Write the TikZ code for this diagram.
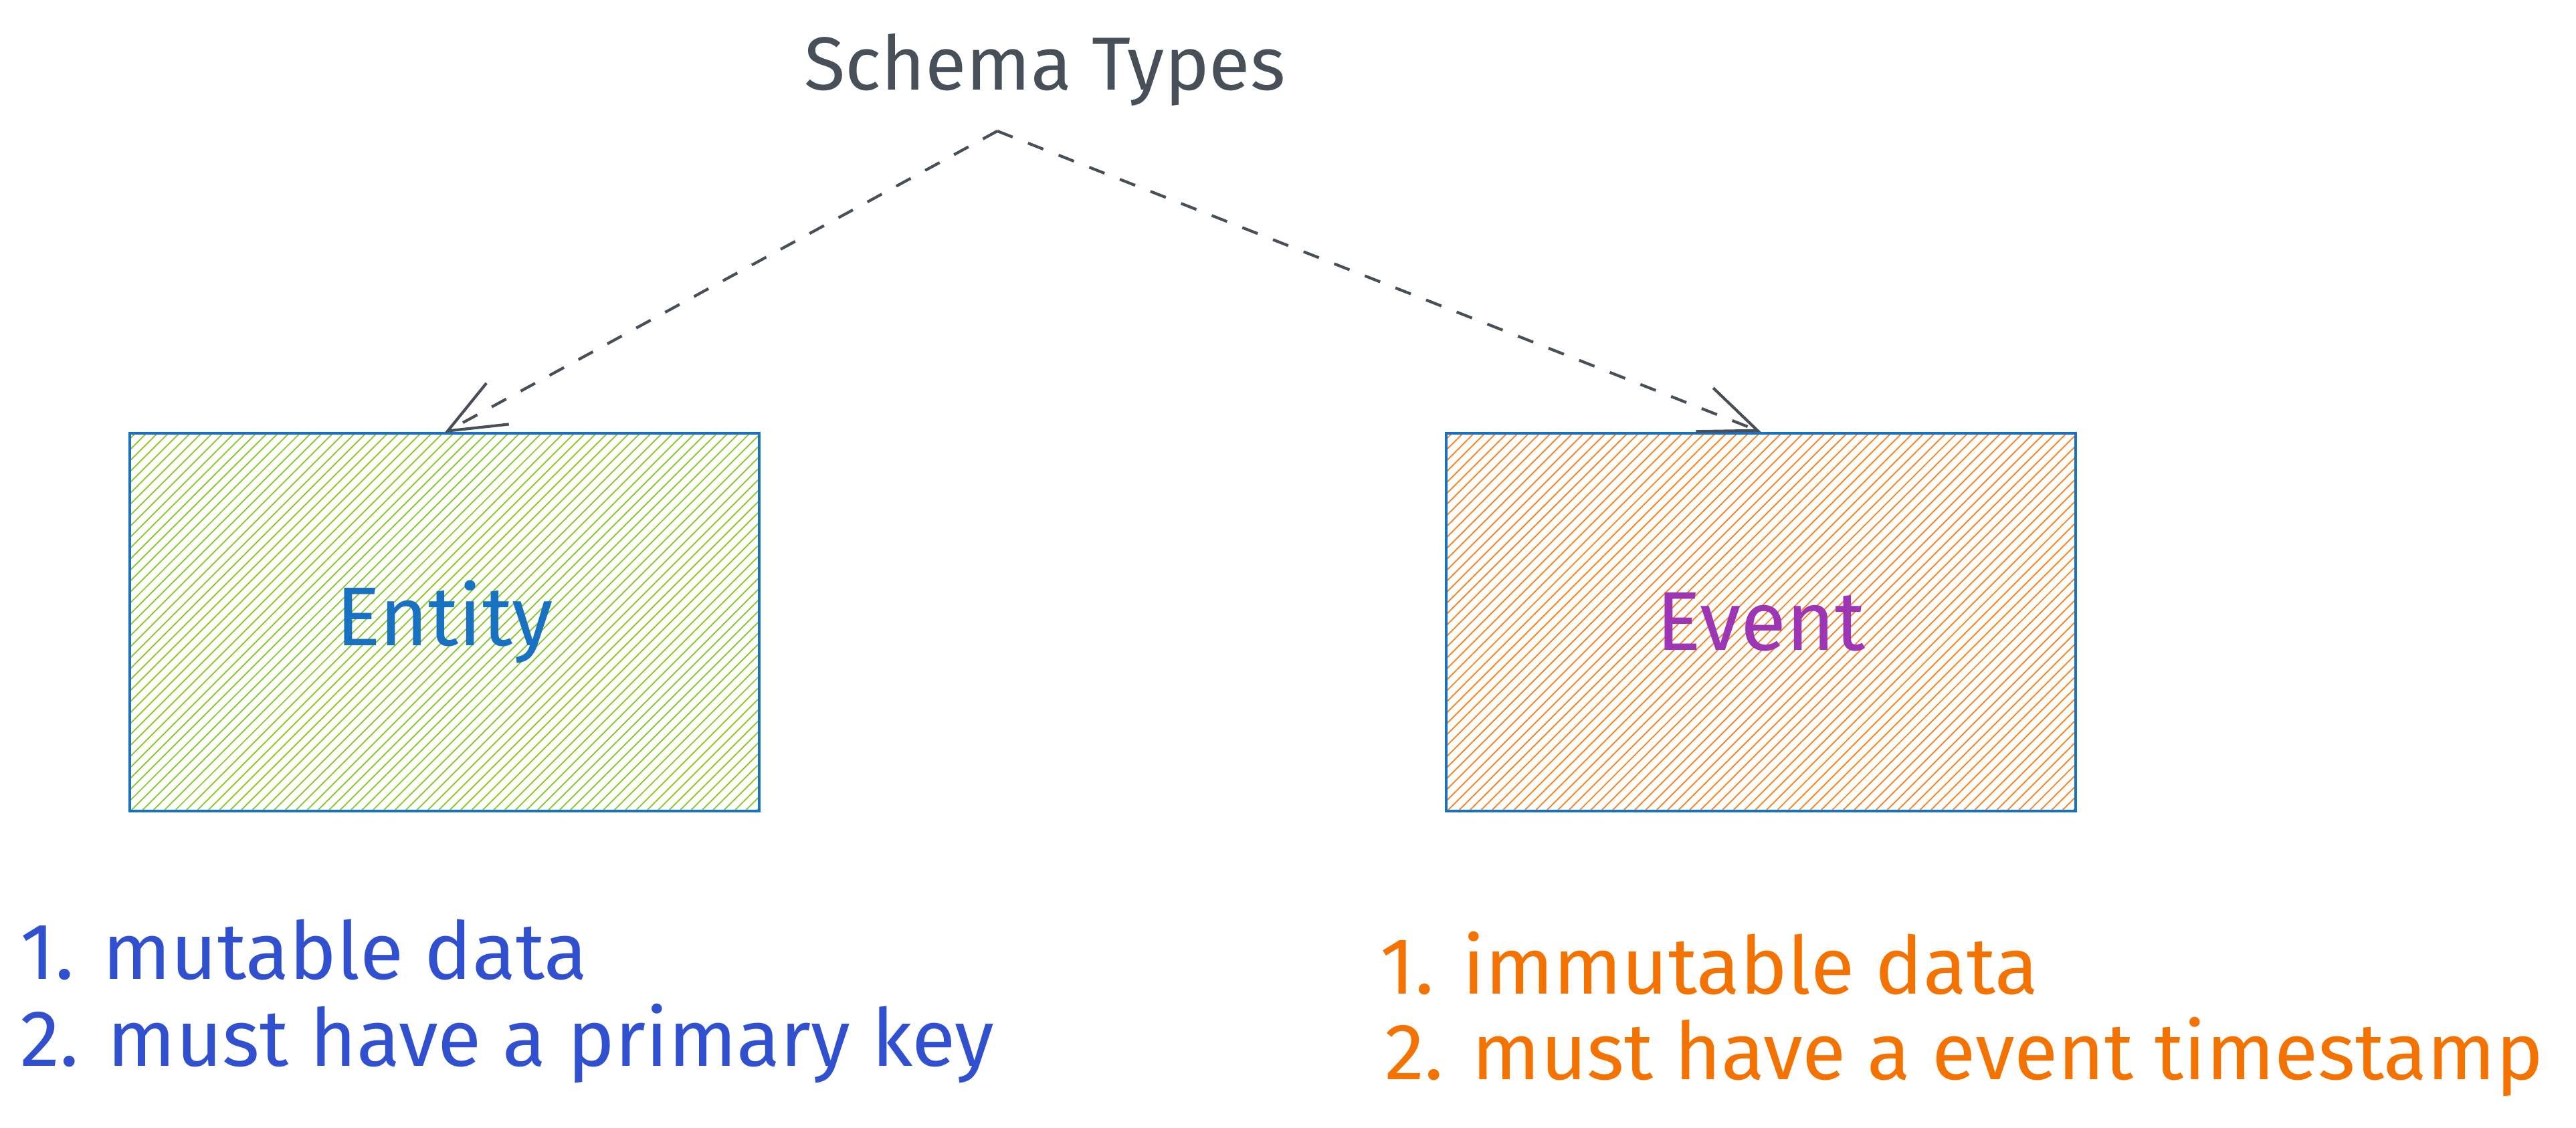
\documentclass[tikz,border=0pt]{standalone}
\usepackage{fontspec}
\setmainfont{Fira Sans}
\usepackage{tikz}
\usetikzlibrary{arrows.meta,patterns.meta,positioning}
\definecolor{inkgrey}{HTML}{474F58}
\definecolor{boxblue}{HTML}{1971C2}
\definecolor{limehatch}{HTML}{82C91E}
\definecolor{orangehatch}{HTML}{FD7E14}
\definecolor{evtpurple}{HTML}{9C36B5}
\definecolor{listblue}{HTML}{3050D0}
\definecolor{listorange}{HTML}{F47300}

\begin{document}
\begin{tikzpicture}[font=\fontsize{32}{38}\selectfont,
  kind/.style={draw=boxblue,line width=1.2pt,rectangle,minimum width=9.41cm,
               minimum height=5.65cm,inner sep=0pt,font=\fontsize{35.5}{42}\selectfont},
  hatch/.style={pattern={Lines[angle=45,distance=3.3pt,line width=0.5pt]},
                pattern color=#1},
  note/.style={anchor=base west,inner sep=0pt,font=\fontsize{34}{40}\selectfont},
  link/.style={draw=inkgrey,line width=1.2pt,dash pattern=on 7pt off 7pt,
               -{Straight Barb[length=8.5mm,width=7mm,line width=1.2pt]}}]
\useasboundingbox (0,0) rectangle (38.51,-16.87);

\node[text=inkgrey,anchor=base] (title) at (15.62,-1.35) {Schema Types};
\coordinate (fork) at (14.91,-1.96);

\node[kind,hatch=limehatch,text=boxblue] (ent) at (6.645,-9.305) {Entity};
\node[kind,hatch=orangehatch,text=evtpurple] (evt) at (26.325,-9.305) {Event};

\node[note,text=listblue] (ent1) at (0.30,-14.64) {1. mutable data};
\node[note,text=listblue] (ent2) at (0.30,-15.94) {2. must have a primary key};
\node[note,text=listorange] (evt1) at (20.63,-14.86) {1. immutable data};
\node[note,text=listorange] (evt2) at (20.70,-16.14) {2. must have a event timestamp};

\draw[link] (fork) -- (ent.north);
\draw[link] (fork) -- (evt.north);
\end{tikzpicture}
\end{document}
